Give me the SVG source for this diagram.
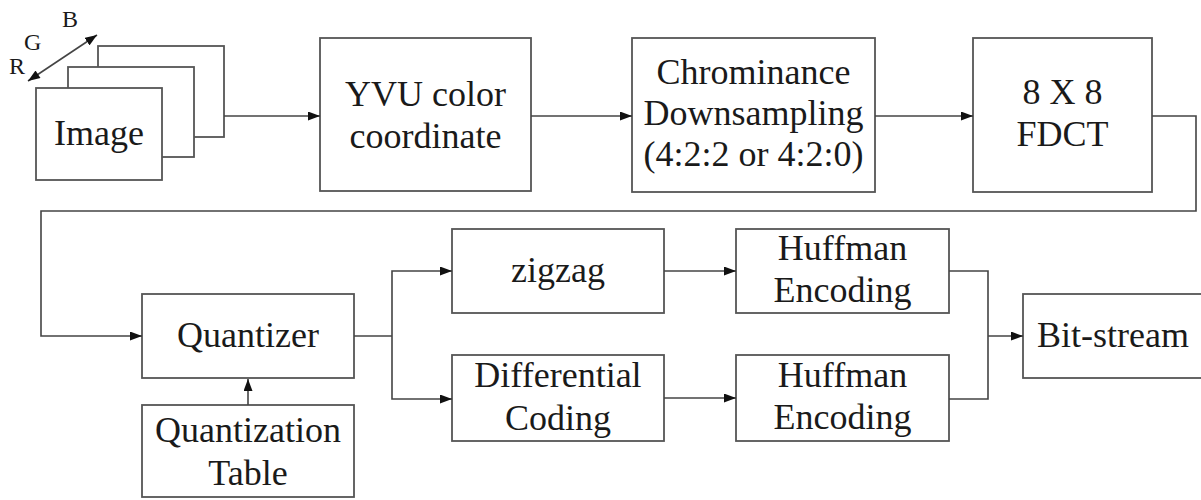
<svg xmlns="http://www.w3.org/2000/svg" width="1201" height="500" viewBox="0 0 1201 500">
  <defs>
    <marker id="arrow" markerUnits="userSpaceOnUse" markerWidth="13" markerHeight="9" refX="12" refY="4.5" orient="auto">
      <path d="M0,0 L12,4.5 L0,9 z" fill="#111"/>
    </marker>
    <marker id="arrowStart" markerUnits="userSpaceOnUse" markerWidth="13" markerHeight="9" refX="0" refY="4.5" orient="auto">
      <path d="M12,0 L0,4.5 L12,9 z" fill="#111"/>
    </marker>
    <style>
      rect { fill: #fff; stroke: #555; stroke-width: 1.8; }
      .wire { fill: none; stroke: #444; stroke-width: 1.6; }
      .arr { marker-end: url(#arrow); }
      .lbl { font-family: 'Liberation Serif', serif; font-size: 36px; fill: #1a1a1a; text-anchor: middle; }
      .small { font-family: 'Liberation Serif', serif; font-size: 24px; fill: #1a1a1a; text-anchor: start; }
    </style>
  </defs>
  <rect x="0" y="0" width="1201" height="500" style="fill:#fff;stroke:none"/>

  <!-- RGB plane stack -->
  <g id="image">
    <rect x="98" y="46" width="126" height="91"/>
    <rect x="68" y="67" width="126" height="90"/>
    <rect x="36" y="88" width="126" height="92"/>
    <text class="lbl" x="99" y="145">Image</text>
    <line x1="28" y1="81" x2="97" y2="35" class="wire" marker-start="url(#arrowStart)" marker-end="url(#arrow)"/>
    <text class="small" x="9" y="74">R</text>
    <text class="small" x="24" y="50">G</text>
    <text class="small" x="62" y="27">B</text>
  </g>

  <g id="yvu">
    <rect x="320" y="38" width="211" height="153"/>
    <text class="lbl" x="425.5" y="106">YVU color</text>
    <text class="lbl" x="425.5" y="148">coordinate</text>
  </g>

  <g id="chroma">
    <rect x="632" y="38" width="243" height="154"/>
    <text class="lbl" x="753.5" y="84">Chrominance</text>
    <text class="lbl" x="753.5" y="125">Downsampling</text>
    <text class="lbl" x="753.5" y="166">(4:2:2 or 4:2:0)</text>
  </g>

  <g id="fdct">
    <rect x="973" y="38" width="179" height="154"/>
    <text class="lbl" x="1062.5" y="104">8 X 8</text>
    <text class="lbl" x="1062.5" y="146">FDCT</text>
  </g>

  <g id="quantizer">
    <rect x="142" y="294" width="212" height="84"/>
    <text class="lbl" x="248" y="347">Quantizer</text>
  </g>

  <g id="qtable">
    <rect x="142" y="405" width="212" height="92"/>
    <text class="lbl" x="248" y="442">Quantization</text>
    <text class="lbl" x="248" y="485">Table</text>
  </g>

  <g id="zigzag">
    <rect x="452" y="229" width="212" height="84"/>
    <text class="lbl" x="558" y="282">zigzag</text>
  </g>

  <g id="diff">
    <rect x="452" y="355" width="212" height="86"/>
    <text class="lbl" x="558" y="387">Differential</text>
    <text class="lbl" x="558" y="430">Coding</text>
  </g>

  <g id="huff1">
    <rect x="736" y="229" width="213" height="84"/>
    <text class="lbl" x="842.5" y="260">Huffman</text>
    <text class="lbl" x="842.5" y="302">Encoding</text>
  </g>

  <g id="huff2">
    <rect x="736" y="355" width="213" height="86"/>
    <text class="lbl" x="842.5" y="387">Huffman</text>
    <text class="lbl" x="842.5" y="429">Encoding</text>
  </g>

  <g id="bitstream">
    <rect x="1023" y="294" width="182" height="84"/>
    <text class="lbl" x="1113" y="347">Bit-stream</text>
  </g>

  <g id="connectors">
    <line class="wire arr" x1="224" y1="116" x2="320" y2="116"/>
    <line class="wire arr" x1="531" y1="116" x2="632" y2="116"/>
    <line class="wire arr" x1="875" y1="116" x2="973" y2="116"/>
    <polyline class="wire arr" points="1152,116 1196,116 1196,211 41,211 41,336 142,336"/>
    <line class="wire arr" x1="248" y1="405" x2="248" y2="379"/>
    <polyline class="wire" points="354,336 392,336"/>
    <polyline class="wire arr" points="392,336 392,271 452,271"/>
    <polyline class="wire arr" points="392,336 392,399 452,399"/>
    <line class="wire arr" x1="664" y1="271" x2="736" y2="271"/>
    <line class="wire arr" x1="664" y1="398" x2="736" y2="398"/>
    <polyline class="wire" points="949,271 988,271 988,399 949,399"/>
    <line class="wire arr" x1="988" y1="336" x2="1023" y2="336"/>
  </g>
</svg>
